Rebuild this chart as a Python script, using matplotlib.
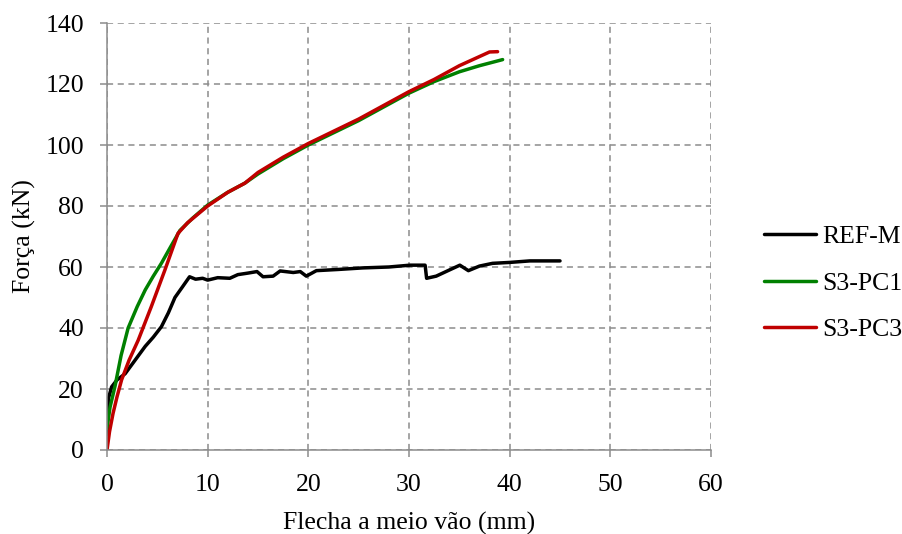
import matplotlib
matplotlib.use("Agg")
import matplotlib.pyplot as plt

plt.rcParams['font.family'] = ['Liberation Serif', 'DejaVu Serif']

# Load-deflection curves (deflection in mm, force in kN)
ref_m_x = [0, 0.05, 0.15, 0.46, 1.0, 1.8, 2.8, 3.8, 4.6, 5.4, 6.1, 6.75, 7.5, 8.2,
           8.8, 9.5, 10, 11, 12.2, 13, 14, 14.9, 15.5, 16.5, 17.2, 18.5, 19.2, 19.8,
           20.8, 23, 25.4, 28, 30.1, 31.6, 31.75, 32.7, 34, 35.05, 35.9, 37, 38.3,
           40, 42, 45]
ref_m_y = [5, 10, 17, 20.7, 23, 25, 29.5, 34, 37, 40.4, 45, 50, 53.5, 56.8,
           56, 56.3, 55.7, 56.5, 56.3, 57.5, 58, 58.5, 56.8, 57, 58.7, 58.2, 58.5, 57,
           58.8, 59.2, 59.7, 60, 60.6, 60.6, 56.3, 57, 59, 60.6, 58.8, 60.3, 61.2,
           61.5, 62, 62]

s3_pc1_x = [0, 0.3, 0.8, 1.4, 2.1, 3.0, 3.8, 4.6, 5.4, 6.3, 7.25, 8.5, 10, 12,
            13.7, 15, 17.5, 20, 22.5, 25, 27.5, 30, 32.5, 35, 37, 38.5, 39.3]
s3_pc1_y = [7, 14, 21, 31, 40, 47, 52.5, 57, 61.2, 66.5, 72, 76, 80.3, 84.5,
            87.5, 90.5, 95.5, 100, 104, 108, 112.5, 117, 120.8, 124, 126, 127.3, 128]

s3_pc3_x = [0, 0.25, 0.6, 1.0, 1.45, 2.2, 3.1, 4.4, 5.75, 7.05, 8, 10, 12, 13.7,
            15, 17.5, 20, 22.5, 25, 27.5, 30, 32.5, 35, 37, 38, 38.8]
s3_pc3_y = [0, 6, 12, 17.5, 23, 29.5, 36, 47, 59, 71, 74.5, 80, 84.5, 87.5,
            91, 96, 100.5, 104.5, 108.5, 113, 117.5, 121.5, 126, 129, 130.5, 130.6]

series_names = ['REF-M', 'S3-PC1', 'S3-PC3']
series_colors = ['#000000', '#008000', '#c00000']

x_ticks = [0, 10, 20, 30, 40, 50, 60]
y_ticks = [0, 20, 40, 60, 80, 100, 120, 140]

fig = plt.figure(figsize=(9.02, 5.34), dpi=100)
ax = fig.add_axes([107 / 902, 84 / 534, 604 / 902, 427 / 534])

data = [(ref_m_x, ref_m_y), (s3_pc1_x, s3_pc1_y), (s3_pc3_x, s3_pc3_y)]
for (xs, ys), name, col in zip(data, series_names, series_colors):
    ax.plot(xs, ys, color=col, lw=2.5, label=name, solid_capstyle='round',
            solid_joinstyle='round')

ax.set_xlim(0, 60)
ax.set_ylim(0, 140)
ax.set_xticks(x_ticks)
ax.set_yticks(y_ticks)
ax.grid(True, color='#8c8c8c', linestyle=(0, (4, 3)), lw=1.1)
ax.set_axisbelow(True)

for side in ['top', 'right']:
    ax.spines[side].set_visible(False)
for side in ['left', 'bottom']:
    ax.spines[side].set_color('#8c8c8c')
    ax.spines[side].set_linewidth(1.1)

ax.tick_params(axis='both', colors='#8c8c8c', labelcolor='black', labelsize=18.5,
               length=5, width=1.1, direction='out')
ax.tick_params(axis='x', pad=12)
ax.tick_params(axis='y', pad=11.5)

ax.set_xlabel('Flecha a meio vão (mm)', fontsize=18.5, labelpad=12)
ax.set_ylabel('Força (kN)', fontsize=18.5, labelpad=6.5)

fig.legend(loc='center left', bbox_to_anchor=(0.8215, 0.47), frameon=False,
           fontsize=18.5, handlelength=2.0, labelspacing=0.9, handletextpad=0.25)

fig.savefig('out.png', dpi=100)
